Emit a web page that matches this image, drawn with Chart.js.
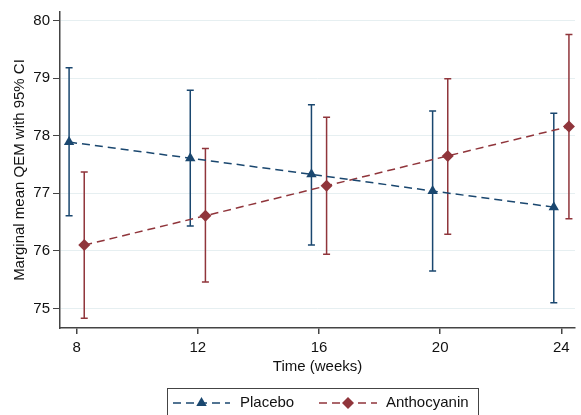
<!DOCTYPE html>
<html lang="en">
<head>
    <meta charset="UTF-8">
    <title>Marginal mean QEM</title>
    <script src="https://cdn.jsdelivr.net/npm/chart.js"></script>
    <style>
        body {
            margin: 0;
            background: #ffffff;
        }

        #wrap {
            width: 581px;
            height: 415px;
        }
    </style>
</head>
<body>
<div id="wrap">
    <canvas id="qemChart" width="581" height="415"></canvas>
</div>

<script>
    // data
    const weeks = [8, 12, 16, 20, 24];
    const yTicks = [75, 76, 77, 78, 79, 80];

    const placeboMean = [77.89, 77.61, 77.33, 77.04, 76.76];
    const placeboLow = [76.61, 76.43, 76.10, 75.65, 75.10];
    const placeboHigh = [79.18, 78.79, 78.54, 78.43, 78.39];

    const anthoMean = [76.10, 76.61, 77.13, 77.65, 78.16];
    const anthoLow = [74.83, 75.46, 75.94, 76.29, 76.56];
    const anthoHigh = [77.37, 77.78, 78.32, 78.99, 79.76];

    // groups are dodged sideways around each week
    const dodge = 0.25;

    const navy = '#1a476f';
    const maroon = '#90353b';
    const font = {family: "'Liberation Sans', Arial, sans-serif", size: 15};

    function points(shift, means) {
        return weeks.map((w, i) => ({x: w + shift, y: means[i]}));
    }

    // vertical CI bars with caps, drawn under the markers
    const ciBars = {
        id: 'ciBars',
        beforeDatasetsDraw(chart) {
            const ctx = chart.ctx;
            const xs = chart.scales.x, ys = chart.scales.y;
            chart.data.datasets.forEach((ds) => {
                ctx.save();
                ctx.strokeStyle = ds.borderColor;
                ctx.lineWidth = 1.5;
                ds.data.forEach((p, i) => {
                    const x = xs.getPixelForValue(p.x);
                    const top = ys.getPixelForValue(ds.ciHigh[i]);
                    const bot = ys.getPixelForValue(ds.ciLow[i]);
                    ctx.beginPath();
                    ctx.moveTo(x, top);
                    ctx.lineTo(x, bot);
                    ctx.moveTo(x - 3.5, top);
                    ctx.lineTo(x + 3.5, top);
                    ctx.moveTo(x - 3.5, bot);
                    ctx.lineTo(x + 3.5, bot);
                    ctx.stroke();
                });
                ctx.restore();
            });
        }
    };

    // boxed legend under the axis title, Stata style
    const boxLegend = {
        id: 'boxLegend',
        afterDraw(chart) {
            const ctx = chart.ctx;
            const cy = 403;
            ctx.save();
            ctx.strokeStyle = '#444';
            ctx.lineWidth = 1;
            ctx.strokeRect(167.5, 388.5, 311, 40);

            const items = [
                {ds: chart.data.datasets[0], x0: 173, x1: 230, tx: 240},
                {ds: chart.data.datasets[1], x0: 319, x1: 377, tx: 386}
            ];
            items.forEach(({ds, x0, x1, tx}) => {
                ctx.strokeStyle = ds.borderColor;
                ctx.lineWidth = 1.5;
                ctx.setLineDash(ds.borderDash);
                ctx.beginPath();
                ctx.moveTo(x0, cy);
                ctx.lineTo(x1, cy);
                ctx.stroke();
                ctx.setLineDash([]);

                const mx = (x0 + x1) / 2, r = ds.pointRadius;
                ctx.fillStyle = ds.borderColor;
                ctx.beginPath();
                if (ds.pointStyle === 'triangle') {
                    ctx.moveTo(mx, cy - r);
                    ctx.lineTo(mx + r * 0.866, cy + r * 0.5);
                    ctx.lineTo(mx - r * 0.866, cy + r * 0.5);
                } else {
                    ctx.moveTo(mx, cy - r);
                    ctx.lineTo(mx + r, cy);
                    ctx.lineTo(mx, cy + r);
                    ctx.lineTo(mx - r, cy);
                }
                ctx.closePath();
                ctx.fill();

                ctx.fillStyle = '#111';
                ctx.font = '15px ' + font.family;
                ctx.textBaseline = 'middle';
                ctx.fillText(ds.label, tx, cy);
            });
            ctx.restore();
        }
    };

    new Chart(document.getElementById('qemChart').getContext('2d'), {
        type: 'line',
        data: {
            datasets: [{
                label: 'Placebo',
                data: points(-dodge, placeboMean),
                ciLow: placeboLow,
                ciHigh: placeboHigh,
                borderColor: navy,
                backgroundColor: navy,
                borderWidth: 1.5,
                borderDash: [8, 5],
                pointStyle: 'triangle',
                pointRadius: 6,
                pointBorderWidth: 0,
                fill: false
            }, {
                label: 'Anthocyanin',
                data: points(dodge, anthoMean),
                ciLow: anthoLow,
                ciHigh: anthoHigh,
                borderColor: maroon,
                backgroundColor: maroon,
                borderWidth: 1.5,
                borderDash: [8, 5],
                pointStyle: 'rectRot',
                pointRadius: 6,
                pointBorderWidth: 0,
                fill: false
            }]
        },
        options: {
            responsive: false,
            animation: false,
            layout: {padding: {top: 12, right: 0, bottom: 35, left: 0}},
            plugins: {
                legend: {display: false},
                tooltip: {enabled: false}
            },
            scales: {
                x: {
                    type: 'linear',
                    min: 7.45,
                    max: 24.45,
                    afterBuildTicks: (scale) => {
                        scale.ticks = weeks.map(v => ({value: v}));
                    },
                    afterFit: (scale) => {
                        scale.height = 52;
                    },
                    ticks: {color: '#111', font: font, padding: 5, maxRotation: 0},
                    grid: {drawOnChartArea: false, tickLength: 6, tickColor: '#444', lineWidth: 1.5},
                    border: {display: true, color: '#444', width: 1.5},
                    title: {display: true, text: 'Time (weeks)', color: '#111', font: font}
                },
                y: {
                    min: 74.66,
                    max: 80.15,
                    afterBuildTicks: (scale) => {
                        scale.ticks = yTicks.map(v => ({value: v}));
                    },
                    afterFit: (scale) => {
                        scale.width = 60;
                    },
                    ticks: {color: '#111', font: font, padding: 3},
                    grid: {color: '#e6eff1', lineWidth: 1, tickLength: 7, tickColor: '#444'},
                    border: {display: true, color: '#444', width: 1.5},
                    title: {
                        display: true,
                        text: 'Marginal mean QEM with 95% CI',
                        color: '#111',
                        font: font,
                        padding: {top: 11, bottom: 4}
                    }
                }
            }
        },
        plugins: [ciBars, boxLegend]
    });
</script>
</body>
</html>
